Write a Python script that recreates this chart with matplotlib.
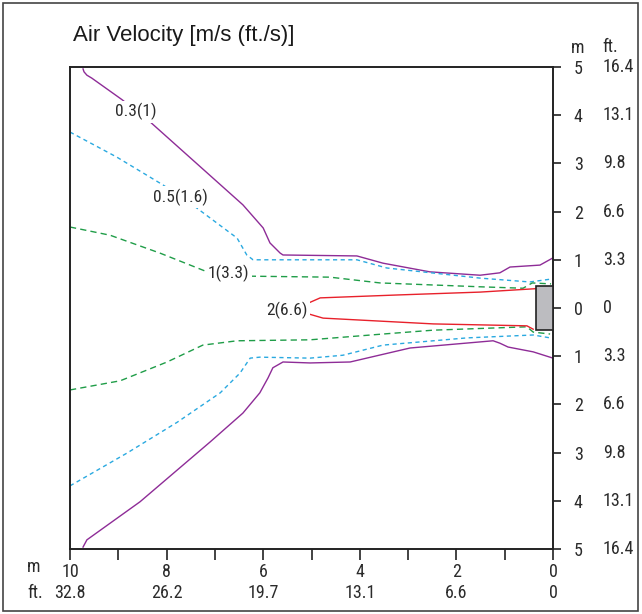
import matplotlib
matplotlib.use("Agg")
import matplotlib.pyplot as plt
from matplotlib.patches import Rectangle
from matplotlib import font_manager

names = {f.name for f in font_manager.fontManager.ttflist}
narrow = 'Liberation Sans'
for cand in ['Liberation Sans Narrow', 'Roboto Condensed', 'Open Sans Condensed', 'Noto Sans Condensed']:
    if cand in names:
        narrow = cand
        break

# 0.3 m/s (1 ft/s) contour
v03_up_x = [9.73, 9.71, 9.65, 9.55, 8.92, 8.34, 6.42, 6.00, 5.86, 5.65, 5.59, 4.06, 3.52, 2.55, 1.51, 1.10, 0.89, 0.27, 0.0]
v03_up_y = [4.96, 4.90, 4.83, 4.77, 4.32, 3.86, 2.14, 1.66, 1.35, 1.14, 1.10, 1.08, 0.93, 0.75, 0.68, 0.73, 0.85, 0.89, 1.04]
v03_lo_x = [9.73, 9.65, 8.55, 7.10, 6.42, 6.07, 5.90, 5.80, 5.59, 5.03, 4.20, 2.96, 1.24, 1.10, 0.93, 0.41, 0.0]
v03_lo_y = [-4.96, -4.81, -4.02, -2.78, -2.18, -1.76, -1.45, -1.24, -1.12, -1.14, -1.12, -0.83, -0.68, -0.73, -0.81, -0.91, -1.04]

# 0.5 m/s (1.6 ft/s)
v05_up_x = [10.0, 9.03, 8.07, 7.41, 6.54, 6.34, 6.21, 5.03, 4.06, 3.44, 1.51, 0.48, 0.04]
v05_up_y = [3.65, 3.13, 2.55, 2.10, 1.45, 1.10, 1.00, 1.00, 1.00, 0.83, 0.62, 0.54, 0.60]
v05_lo_x = [10.0, 8.82, 7.78, 6.89, 6.48, 6.27, 6.07, 5.03, 4.35, 3.52, 1.78, 0.41, 0.06]
v05_lo_y = [-3.69, -3.01, -2.37, -1.76, -1.35, -1.04, -1.02, -1.04, -0.98, -0.77, -0.62, -0.56, -0.62]

# 1 m/s (3.3 ft/s)
v1_up_x = [10.0, 9.17, 8.14, 7.16, 6.27, 4.62, 3.58, 1.51, 0.62, 0.43, 0.04]
v1_up_y = [1.68, 1.51, 1.14, 0.75, 0.66, 0.64, 0.52, 0.44, 0.41, 0.52, 0.50]
v1_lo_x = [10.0, 8.96, 7.99, 7.25, 6.54, 5.03, 3.52, 2.48, 0.54, 0.41, 0.06]
v1_lo_y = [-1.70, -1.51, -1.12, -0.77, -0.68, -0.66, -0.54, -0.46, -0.39, -0.50, -0.54]

# 2 m/s (6.6 ft/s)
v2_up_x = [5.07, 4.82, 3.23, 1.51, 0.37]
v2_up_y = [0.10, 0.21, 0.27, 0.33, 0.40]
v2_lo_x = [5.07, 4.76, 2.48, 0.54, 0.41]
v2_lo_y = [-0.12, -0.21, -0.33, -0.37, -0.44]

labels = ['0.3(1)', '0.5(1.6)', '1(3.3)', '2(6.6)']
label_x = [8.63, 7.72, 6.71, 5.51]
label_y = [4.07, 2.30, 0.71, -0.04]

x_m = [10, 8, 6, 4, 2, 0]
x_ft = ['32.8', '26.2', '19.7', '13.1', '6.6', '0']
y_m = [5, 4, 3, 2, 1, 0, -1, -2, -3, -4, -5]
y_m_lab = ['5', '4', '3', '2', '1', '0', '1', '2', '3', '4', '5']
y_ft = ['16.4', '13.1', '9.8', '6.6', '3.3', '0', '3.3', '6.6', '9.8', '13.1', '16.4']

purple = '#8e2c97'
blue = '#2aa9e0'
green = '#1f9d48'
red = '#e8212b'
txt = '#2b2b2b'
fs = 13
fs_lab = 12.5

fig = plt.figure(figsize=(6.42, 6.14), dpi=100)
ax = fig.add_axes([70/642, 1-549/614, 483/642, 482/614])

ax.plot(v03_up_x, v03_up_y, color=purple, lw=1.0)
ax.plot(v03_lo_x, v03_lo_y, color=purple, lw=1.0)
ax.plot(v05_up_x, v05_up_y, color=blue, lw=1.0, dashes=(3, 2.5))
ax.plot(v05_lo_x, v05_lo_y, color=blue, lw=1.0, dashes=(3, 2.5))
ax.plot(v1_up_x, v1_up_y, color=green, lw=1.0, dashes=(4.5, 3))
ax.plot(v1_lo_x, v1_lo_y, color=green, lw=1.0, dashes=(4.5, 3))
ax.plot(v2_up_x, v2_up_y, color=red, lw=1.0)
ax.plot(v2_lo_x, v2_lo_y, color=red, lw=1.0)

# outlet unit
ax.add_patch(Rectangle((0.0, -0.45), 0.36, 0.9, facecolor='#bcbcc0', edgecolor='#222222', lw=1.2, zorder=5))

for s, lx, ly in zip(labels, label_x, label_y):
    ax.text(lx, ly, s, ha='center', va='center', fontsize=fs_lab, color=txt, family=narrow,
            bbox=dict(facecolor='white', edgecolor='none', pad=1.5), zorder=6)

ax.set_xlim(10, 0)
ax.set_ylim(-5, 5)
for sp in ax.spines.values():
    sp.set_linewidth(1.4)
    sp.set_color('#222222')

ax.set_xticks(x_m)
ax.set_xticks([9, 7, 5, 3, 1], minor=True)
ax.set_xticklabels([str(v) for v in x_m], family=narrow, fontsize=fs, color=txt)
ax.tick_params(axis='x', which='both', direction='out', length=8, width=1.2, pad=2, color='#222222')
ax.yaxis.tick_right()
ax.set_yticks(y_m)
ax.set_yticklabels(y_m_lab, family=narrow, fontsize=fs, color=txt)
ax.tick_params(axis='y', direction='out', length=6, width=1.2, pad=9, color='#222222')

trans_x = ax.get_xaxis_transform()
for v, s in zip(x_m, x_ft):
    ax.text(v, -44/482, s, transform=trans_x, ha='center', va='center', fontsize=fs, family=narrow, color=txt)
trans_y = ax.get_yaxis_transform()
for v, s in zip(y_m, y_ft):
    ax.text(1 + 50/483, v, s, transform=trans_y, ha='left', va='center', fontsize=fs, family=narrow, color=txt)

fig.text(27/642, 1-567/614, 'm', ha='left', va='center', fontsize=fs, family=narrow, color=txt)
fig.text(27/642, 1-593/614, 'ft.', ha='left', va='center', fontsize=fs, family=narrow, color=txt)
fig.text(571/642, 1-48/614, 'm', ha='left', va='center', fontsize=fs, family=narrow, color=txt)
fig.text(602/642, 1-47/614, 'ft.', ha='left', va='center', fontsize=fs, family=narrow, color=txt)
fig.text(73/642, 1-35/614, 'Air Velocity [m/s (ft./s)]', ha='left', va='center', fontsize=16,
         family='Liberation Sans', color='#1a1a1a')

# frame around the whole figure
fig.add_artist(Rectangle((3/642, 3/614), 635/642, 608/614, transform=fig.transFigure,
                         fill=False, edgecolor='#444444', lw=1.2))

fig.savefig('out.png', dpi=100)
